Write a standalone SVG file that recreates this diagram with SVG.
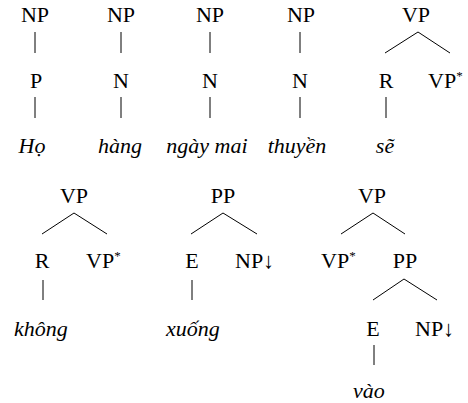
<svg xmlns="http://www.w3.org/2000/svg" width="468" height="403" viewBox="0 0 468 403">
<style>
text{font-family:"Liberation Serif","DejaVu Serif",serif;font-size:22px;fill:#000}
.m{text-anchor:middle}
.w{font-style:italic;text-anchor:middle}
.sup{font-size:13px}
#edges line{stroke:#000;stroke-width:1}
</style>
<rect width="468" height="403" fill="#fff"/>
<g id="edges">
<line x1="35" y1="32" x2="35" y2="53"/>
<line x1="35" y1="97" x2="35" y2="118"/>
<line x1="121" y1="32" x2="121" y2="53"/>
<line x1="121" y1="97" x2="121" y2="118"/>
<line x1="210" y1="32" x2="210" y2="53"/>
<line x1="210" y1="97" x2="210" y2="118"/>
<line x1="300" y1="32" x2="300" y2="53"/>
<line x1="300" y1="97" x2="300" y2="118"/>
<line x1="418" y1="32" x2="385" y2="53"/>
<line x1="418" y1="32" x2="450" y2="53"/>
<line x1="386" y1="97" x2="386" y2="118"/>
<line x1="74" y1="213" x2="42" y2="234"/>
<line x1="74" y1="213" x2="107" y2="234"/>
<line x1="43" y1="280" x2="43" y2="300"/>
<line x1="223" y1="213" x2="191" y2="234"/>
<line x1="223" y1="213" x2="257" y2="234"/>
<line x1="192" y1="280" x2="192" y2="300"/>
<line x1="373" y1="213" x2="341" y2="234"/>
<line x1="373" y1="213" x2="405" y2="234"/>
<line x1="404" y1="279" x2="373" y2="300"/>
<line x1="404" y1="279" x2="437" y2="300"/>
<line x1="374" y1="345" x2="374" y2="365"/>
</g>
<g id="t1-np"><text class="m" x="35" y="22">NP</text></g>
<g id="t1-p"><text class="m" x="36" y="88">P</text></g>
<g id="t1-w"><text class="w" x="32" y="153">Họ</text></g>
<g id="t2-np"><text class="m" x="121" y="22">NP</text></g>
<g id="t2-n"><text class="m" x="121" y="88">N</text></g>
<g id="t2-w"><text class="w" x="120" y="153">hàng</text></g>
<g id="t3-np"><text class="m" x="210" y="22">NP</text></g>
<g id="t3-n"><text class="m" x="210" y="88">N</text></g>
<g id="t3-w"><text class="w" x="207" y="153">ngày mai</text></g>
<g id="t4-np"><text class="m" x="301" y="22">NP</text></g>
<g id="t4-n"><text class="m" x="300" y="88">N</text></g>
<g id="t4-w"><text class="w" x="297" y="153">thuyền</text></g>
<g id="t5-vp"><text class="m" x="416" y="22">VP</text></g>
<g id="t5-r"><text class="m" x="386" y="88">R</text></g>
<g id="t5-vps"><text x="428" y="88">VP<tspan class="sup" dy="-8">*</tspan></text></g>
<g id="t5-w"><text class="w" x="385" y="153">sẽ</text></g>
<g id="t6-vp"><text class="m" x="74" y="203">VP</text></g>
<g id="t6-r"><text class="m" x="42" y="268">R</text></g>
<g id="t6-vps"><text x="86" y="268">VP<tspan class="sup" dy="-8">*</tspan></text></g>
<g id="t6-w"><text class="w" x="41" y="336">không</text></g>
<g id="t7-pp"><text class="m" x="223" y="203">PP</text></g>
<g id="t7-e"><text class="m" x="192" y="268">E</text></g>
<g id="t7-np"><text x="235" y="268">NP↓</text></g>
<g id="t7-w"><text class="w" x="193" y="336">xuống</text></g>
<g id="t8-vp"><text class="m" x="372" y="203">VP</text></g>
<g id="t8-vps"><text x="321" y="268">VP<tspan class="sup" dy="-8">*</tspan></text></g>
<g id="t8-pp"><text class="m" x="405" y="268">PP</text></g>
<g id="t8-e"><text class="m" x="373" y="336">E</text></g>
<g id="t8-np"><text x="415" y="336">NP↓</text></g>
<g id="t8-w"><text class="w" x="369" y="398">vào</text></g>
</svg>
